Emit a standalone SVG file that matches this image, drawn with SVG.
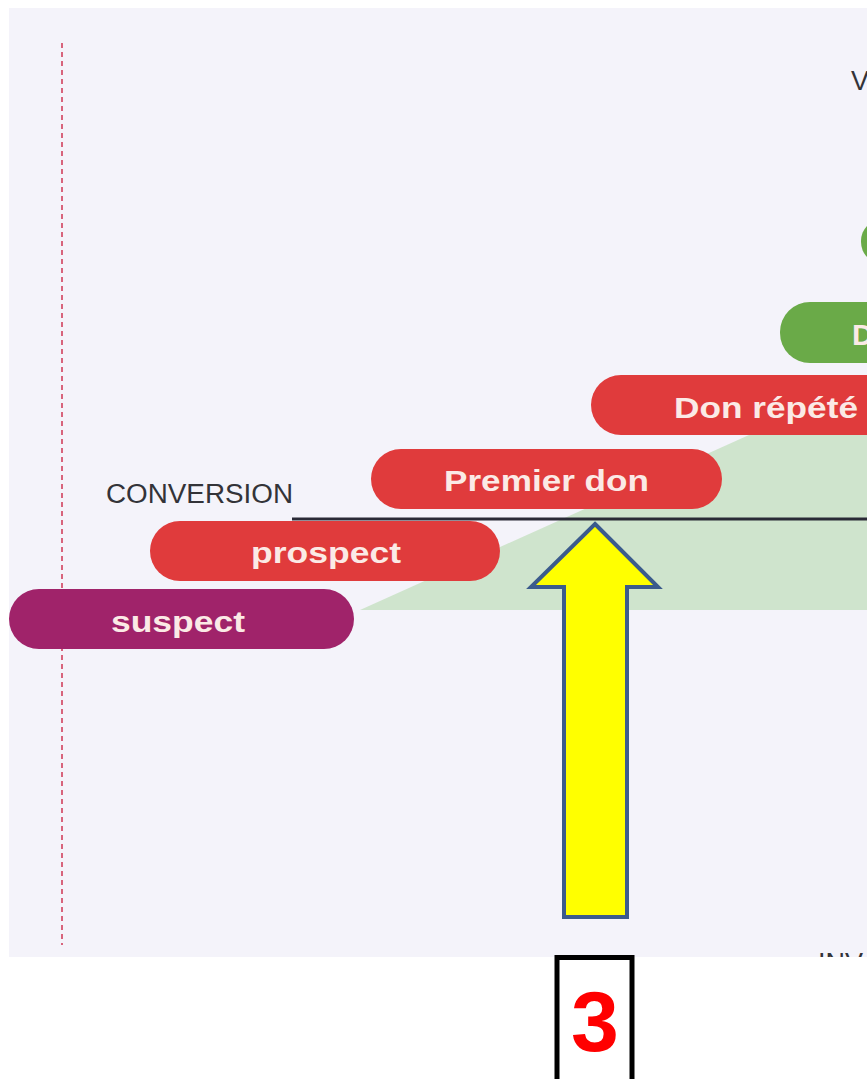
<svg xmlns="http://www.w3.org/2000/svg" width="867" height="1079" viewBox="0 0 867 1079">
<defs>
<style>
.pill-text{font-family:"Liberation Sans",Arial,sans-serif;font-weight:bold;font-size:30px;fill:#fbeae6;}
.red{fill:#e03b3c;}
.green{fill:#6aaa48;}
.purple{fill:#a0236a;}
.label{font-family:"Liberation Sans",Arial,sans-serif;font-size:27px;fill:#333338;}
</style>
<clipPath id="scan"><rect x="9" y="8" width="858" height="949"/></clipPath>
</defs>
<rect width="867" height="1079" fill="#ffffff"/>
<rect x="9" y="8" width="858" height="949" fill="#f4f3fa"/>
<line x1="62" y1="43" x2="62" y2="945" stroke="#d8647c" stroke-width="2" stroke-dasharray="5 4"/>
<polygon points="360,610 867,382 867,610" fill="#cfe4cd"/>
<text class="label" x="851" y="90" font-size="22">V</text>
<text class="label" x="818" y="972" font-size="22" clip-path="url(#scan)">INV</text>
<g id="connectors">
<line x1="292" y1="519" x2="867" y2="519" stroke="#2a2a36" stroke-width="3"/>
</g>
<g id="conversion"><text class="label" x="106" y="503" textLength="187" lengthAdjust="spacingAndGlyphs">CONVERSION</text></g>
<g id="green-top"><rect class="green" x="861" y="219" width="60" height="45" rx="22"/></g>
<g id="green-don"><rect class="green" x="780" y="302" width="120" height="61" rx="30"/>
<text class="pill-text" x="852" y="345">D</text></g>
<g id="don-repete"><rect class="red" x="591" y="375" width="320" height="60" rx="30"/>
<text class="pill-text" x="674" y="418" textLength="184" lengthAdjust="spacingAndGlyphs">Don répété</text></g>
<g id="premier-don"><rect class="red" x="371" y="449" width="351" height="60" rx="30"/>
<text class="pill-text" x="444" y="491" textLength="205" lengthAdjust="spacingAndGlyphs">Premier don</text></g>
<g id="prospect"><rect class="red" x="150" y="521" width="350" height="60" rx="30"/>
<text class="pill-text" x="251" y="563" textLength="150" lengthAdjust="spacingAndGlyphs">prospect</text></g>
<g id="suspect"><rect class="purple" x="9" y="589" width="345" height="60" rx="30"/>
<text class="pill-text" x="111" y="632" textLength="134" lengthAdjust="spacingAndGlyphs">suspect</text></g>
<g id="arrow"><polygon points="595,524 658,587 627,587 627,917 564,917 564,587 531,587" fill="#ffff00" stroke="#3b5b8c" stroke-width="4" stroke-linejoin="miter"/></g>
<g id="step-3"><rect x="557" y="957.5" width="75" height="130" fill="#ffffff" stroke="#000000" stroke-width="5"/>
<text x="595" y="1051" text-anchor="middle" font-family="Liberation Sans,Arial,sans-serif" font-weight="bold" font-size="86" fill="#ff0000">3</text></g>
</svg>
